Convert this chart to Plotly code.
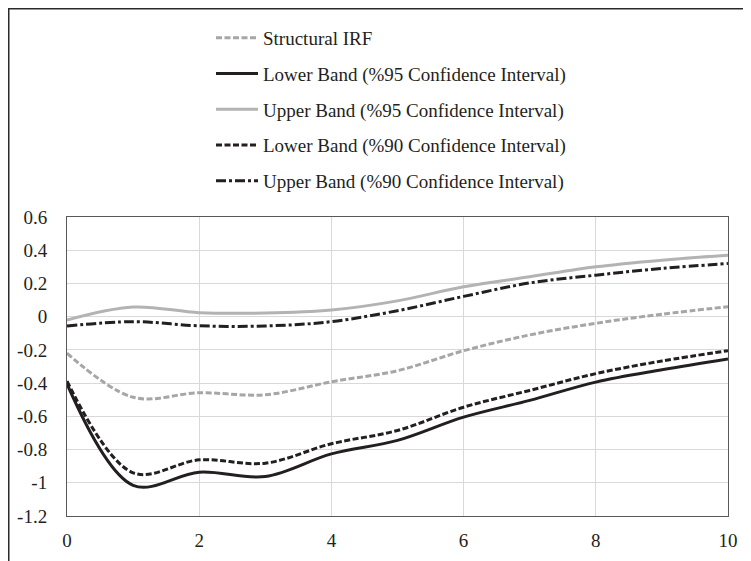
import plotly.graph_objects as go

periods = [0, 1, 2, 3, 4, 5, 6, 7, 8, 9, 10]
structural_irf = [-0.22, -0.485, -0.458, -0.47, -0.392, -0.325, -0.205, -0.11, -0.04, 0.015, 0.06]
lower_95 = [-0.405, -1.015, -0.936, -0.962, -0.826, -0.745, -0.605, -0.504, -0.394, -0.32, -0.255]
upper_95 = [-0.02, 0.058, 0.024, 0.022, 0.04, 0.095, 0.18, 0.24, 0.30, 0.34, 0.37]
lower_90 = [-0.388, -0.94, -0.862, -0.882, -0.765, -0.685, -0.545, -0.444, -0.343, -0.267, -0.205]
upper_90 = [-0.056, -0.03, -0.055, -0.056, -0.03, 0.036, 0.122, 0.203, 0.25, 0.29, 0.32]

names = [
    "Structural IRF",
    "Lower Band (%95 Confidence Interval)",
    "Upper Band (%95 Confidence Interval)",
    "Lower Band (%90 Confidence Interval)",
    "Upper Band (%90 Confidence Interval)",
]
y_tick_vals = [0.6, 0.4, 0.2, 0, -0.2, -0.4, -0.6, -0.8, -1, -1.2]
y_tick_text = ["0.6", "0.4", "0.2", "0", "-0.2", "-0.4", "-0.6", "-0.8", "-1", "-1.2"]
x_tick_vals = [0, 2, 4, 6, 8, 10]

series = [structural_irf, lower_95, upper_95, lower_90, upper_90]
styles = [
    dict(color="#a6a6a6", width=3, dash="6px,2.5px"),
    dict(color="#231f20", width=3, dash="solid"),
    dict(color="#b3b3b3", width=3, dash="solid"),
    dict(color="#231f20", width=3, dash="6px,2.5px"),
    dict(color="#231f20", width=3, dash="10px,3px,3px,3px"),
]

# figure sits at an 8px page offset (default body margin)
W, H = 743, 553
L, R, T, B = 59, 23, 209, 45
PW, PH = W - L - R, H - T - B

fig = go.Figure()
for i, (nm, ys, st) in enumerate(zip(names, series, styles)):
    fig.add_trace(go.Scatter(
        x=periods, y=ys, name=nm, mode="lines",
        line=dict(shape="spline", smoothing=1, **st),
        legendgroup=f"g{i}",
    ))

font = dict(family="Liberation Serif, Times New Roman, serif", size=19, color="#231f20")

fig.update_layout(
    width=W, height=H,
    margin=dict(l=L, r=R, t=T, b=B, autoexpand=False),
    paper_bgcolor="white", plot_bgcolor="white",
    font=font,
    showlegend=True,
    legend=dict(
        xref="container", yref="container",
        x=203 / W, y=1 - 11 / H, xanchor="left", yanchor="top",
        orientation="v", traceorder="grouped", tracegroupgap=8,
        itemwidth=42, bgcolor="rgba(0,0,0,0)", borderwidth=0,
        font=font,
    ),
    xaxis=dict(
        range=[0, 10], tickvals=x_tick_vals, showgrid=True,
        gridcolor="#d9d9d9", gridwidth=1, zeroline=False,
        showline=True, linecolor="#595959", linewidth=1, mirror=True,
        ticks="", ticklabelstandoff=7, tickfont=font,
    ),
    yaxis=dict(
        range=[-1.2, 0.6], tickvals=y_tick_vals, ticktext=y_tick_text,
        showgrid=True, gridcolor="#d9d9d9", gridwidth=1, zeroline=False,
        showline=True, linecolor="#595959", linewidth=1, mirror=True,
        ticks="", ticklabelstandoff=15, tickfont=font,
    ),
    shapes=[
        dict(type="line", xref="paper", yref="paper",
             x0=(0 - L) / PW, x1=(W - L) / PW,
             y0=(H - B - 0.5) / PH, y1=(H - B - 0.5) / PH,
             line=dict(color="#2a2a2a", width=2)),
        dict(type="line", xref="paper", yref="paper",
             x0=(0.5 - L) / PW, x1=(0.5 - L) / PW,
             y0=(H - B) / PH, y1=-B / PH,
             line=dict(color="#2a2a2a", width=2)),
    ],
)

fig.write_html("out.html")
